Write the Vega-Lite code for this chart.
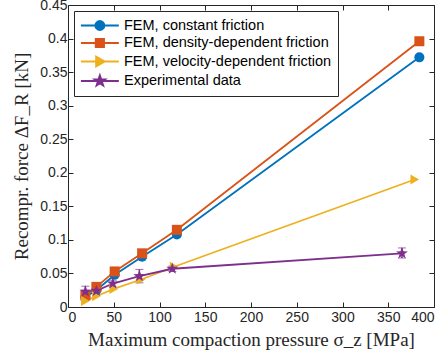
{
  "$schema": "https://vega.github.io/schema/vega-lite/v6.json",
  "width": 366,
  "height": 302,
  "autosize": {"type": "none"},
  "padding": {"left": 68, "top": 5, "right": 9, "bottom": 51},
  "background": "white",
  "config": {
    "view": {"stroke": "#262626", "strokeWidth": 1},
    "axis": {
      "grid": false,
      "domain": false,
      "tickColor": "#262626",
      "tickSize": -5,
      "tickWidth": 1,
      "labelFont": "Liberation Sans",
      "labelFontSize": 14,
      "labelColor": "#262626",
      "titleFont": "Liberation Serif",
      "titleFontWeight": "normal",
      "titleFontSize": 19,
      "titleColor": "#262626"
    },
    "legend": {
      "orient": "top-left",
      "offset": 6,
      "padding": 6,
      "rowPadding": 0.5,
      "fillColor": "white",
      "strokeColor": "#262626",
      "symbolSize": 230,
      "symbolStrokeWidth": 1.8,
      "labelOffset": 27,
      "labelFont": "Liberation Sans",
      "labelFontSize": 14.5,
      "labelColor": "#000000",
      "labelLimit": 400
    }
  },
  "datasets": {
    "fem": [
      {"series": "FEM, constant friction", "x": 19, "y": 0.015},
      {"series": "FEM, constant friction", "x": 31, "y": 0.025},
      {"series": "FEM, constant friction", "x": 51, "y": 0.048},
      {"series": "FEM, constant friction", "x": 81, "y": 0.075},
      {"series": "FEM, constant friction", "x": 119, "y": 0.108},
      {"series": "FEM, constant friction", "x": 384, "y": 0.372},
      {"series": "FEM, density-dependent friction", "x": 19, "y": 0.017},
      {"series": "FEM, density-dependent friction", "x": 31, "y": 0.030},
      {"series": "FEM, density-dependent friction", "x": 51, "y": 0.053},
      {"series": "FEM, density-dependent friction", "x": 81, "y": 0.080},
      {"series": "FEM, density-dependent friction", "x": 119, "y": 0.115},
      {"series": "FEM, density-dependent friction", "x": 384, "y": 0.396},
      {"series": "FEM, velocity-dependent friction", "x": 19, "y": 0.009},
      {"series": "FEM, velocity-dependent friction", "x": 31, "y": 0.016},
      {"series": "FEM, velocity-dependent friction", "x": 50, "y": 0.027},
      {"series": "FEM, velocity-dependent friction", "x": 80, "y": 0.041},
      {"series": "FEM, velocity-dependent friction", "x": 116, "y": 0.060},
      {"series": "FEM, velocity-dependent friction", "x": 379, "y": 0.190},
      {"series": "Experimental data", "x": 19, "y": 0.023},
      {"series": "Experimental data", "x": 31, "y": 0.024},
      {"series": "Experimental data", "x": 49, "y": 0.035},
      {"series": "Experimental data", "x": 78, "y": 0.046},
      {"series": "Experimental data", "x": 114, "y": 0.057},
      {"series": "Experimental data", "x": 365, "y": 0.080}
    ],
    "err": [
      {"x": 19, "lo": 0.015, "hi": 0.031},
      {"x": 31, "lo": 0.018, "hi": 0.030},
      {"x": 49, "lo": 0.030, "hi": 0.040},
      {"x": 78, "lo": 0.036, "hi": 0.056},
      {"x": 114, "lo": 0.053, "hi": 0.061},
      {"x": 365, "lo": 0.073, "hi": 0.088}
    ]
  },
  "resolve": {"axis": {"x": "independent", "y": "independent"}},
  "layer": [
    {
      "data": {"name": "err"},
      "mark": {"type": "errorbar", "ticks": {"size": 8}, "rule": {"strokeWidth": 1.5}, "color": "#7E2F8E"},
      "encoding": {
        "x": {"field": "x", "type": "quantitative", "scale": {"domain": [0, 400]},
              "axis": {"title": "Maximum compaction pressure σ_z [MPa]", "values": [0,50,100,150,200,250,300,350,400], "labelPadding": 8, "titlePadding": 6}},
        "y": {"field": "lo", "type": "quantitative", "scale": {"domain": [0, 0.45]},
              "axis": {"title": "Recompr. force ΔF_R [kN]", "format": ".2~f", "values": [0,0.05,0.1,0.15,0.2,0.25,0.3,0.35,0.4,0.45], "labelPadding": 6, "titlePadding": 8}},
        "y2": {"field": "hi"}
      }
    },
    {
      "data": {"name": "fem"},
      "mark": {"type": "line", "strokeWidth": 1.8},
      "encoding": {
        "x": {"field": "x", "type": "quantitative", "axis": {"orient": "top", "labels": false, "title": null, "values": [0,50,100,150,200,250,300,350,400]}},
        "y": {"field": "y", "type": "quantitative", "axis": {"orient": "right", "labels": false, "title": null, "values": [0,0.05,0.1,0.15,0.2,0.25,0.3,0.35,0.4,0.45]}},
        "color": {"field": "series", "type": "nominal",
                  "scale": {"domain": ["FEM, constant friction", "FEM, density-dependent friction", "FEM, velocity-dependent friction", "Experimental data"],
                            "range": ["#0072BD", "#D95319", "#EDB120", "#7E2F8E"]},
                  "legend": {"title": null, "encode": {"symbols": {"update": {"opacity": {"value": 1}, "fill": {"scale": "color", "field": "value"}, "stroke": {"scale": "color", "field": "value"}, "strokeWidth": {"value": 1.8}}}}}},
        "order": {"field": "x"}
      }
    },
    {
      "data": {"name": "fem"},
      "transform": [{"filter": "datum.series == 'FEM, constant friction'"}],
      "mark": {"type": "point", "filled": true, "opacity": 1, "shape": "circle", "size": 100, "color": "#0072BD"},
      "encoding": {
        "x": {"field": "x", "type": "quantitative", "axis": null},
        "y": {"field": "y", "type": "quantitative", "axis": null}
      }
    },
    {
      "data": {"name": "fem"},
      "transform": [{"filter": "datum.series == 'FEM, density-dependent friction'"}],
      "mark": {"type": "point", "filled": true, "opacity": 1, "shape": "square", "size": 100, "color": "#D95319"},
      "encoding": {
        "x": {"field": "x", "type": "quantitative", "axis": null},
        "y": {"field": "y", "type": "quantitative", "axis": null}
      }
    },
    {
      "data": {"name": "fem"},
      "transform": [{"filter": "datum.series == 'FEM, velocity-dependent friction'"}],
      "mark": {"type": "point", "filled": true, "opacity": 1, "shape": "triangle-right", "size": 100, "color": "#EDB120"},
      "encoding": {
        "x": {"field": "x", "type": "quantitative", "axis": null},
        "y": {"field": "y", "type": "quantitative", "axis": null}
      }
    },
    {
      "data": {"name": "fem"},
      "transform": [{"filter": "datum.series == 'Experimental data'"}],
      "mark": {"type": "point", "filled": true, "opacity": 1, "size": 100, "color": "#7E2F8E",
               "shape": "M0,-1.25L0.294,-0.405L1.189,-0.386L0.475,0.155L0.735,1.011L0,0.5L-0.735,1.011L-0.475,0.155L-1.189,-0.386L-0.294,-0.405Z"},
      "encoding": {
        "x": {"field": "x", "type": "quantitative", "axis": null},
        "y": {"field": "y", "type": "quantitative", "axis": null}
      }
    },
    {
      "data": {"name": "fem"},
      "mark": {"type": "point", "filled": true, "opacity": 0},
      "encoding": {
        "x": {"field": "x", "type": "quantitative", "axis": null},
        "y": {"field": "y", "type": "quantitative", "axis": null},
        "color": {"field": "series", "type": "nominal"},
        "shape": {"field": "series", "type": "nominal",
                  "scale": {"domain": ["FEM, constant friction", "FEM, density-dependent friction", "FEM, velocity-dependent friction", "Experimental data"],
                            "range": [
                              "M-1,0H4M0.9,0A0.6,0.6 0 1,1 2.1,0A0.6,0.6 0 1,1 0.9,0Z",
                              "M-1,0H4M0.95,-0.55H2.05V0.55H0.95Z",
                              "M-1,0H4M1,-0.65L2.15,0L1,0.65Z",
                              "M-1,0H4M1.5,-0.75L1.676,-0.243L2.213,-0.232L1.785,0.093L1.941,0.607L1.5,0.3L1.059,0.607L1.215,0.093L0.787,-0.232L1.324,-0.243Z"
                            ]}}
      }
    }
  ]
}
